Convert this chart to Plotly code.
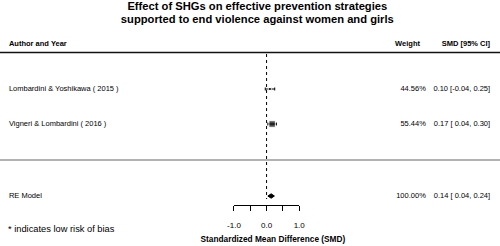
import plotly.graph_objects as go

studies = ["Lombardini & Yoshikawa ( 2015 )", "Vigneri & Lombardini ( 2016 )"]
smd = [0.10, 0.17]
ci_low = [-0.04, 0.04]
ci_high = [0.25, 0.30]
weights = [44.56, 55.44]
re_label = "RE Model"
re_est = 0.14
re_low = 0.04
re_high = 0.24
re_weight = 100.00
tick_vals = [-1.0, -0.5, 0.0, 0.5, 1.0]
tick_text = ["-1.0", "", "0.0", "", "1.0"]
title_lines = ["Effect of SHGs on effective prevention strategies",
               "supported to end violence against women and girls"]

W, H = 500, 246
FONT = "Liberation Sans, Arial, sans-serif"
row_y = [89, 124]
re_y = 196
axis_y = 205
PAD = 5  # observed text offset from anchor point

fig = go.Figure()

sizes = [3 + 3.5 * (w - min(weights)) / (max(weights) - min(weights)) for w in weights]
fig.add_trace(go.Scatter(
    x=smd, y=row_y, mode="markers",
    marker=dict(symbol="square", size=sizes, color="black"),
    error_x=dict(type="data", symmetric=False,
                 array=[h - m for h, m in zip(ci_high, smd)],
                 arrayminus=[m - l for m, l in zip(smd, ci_low)],
                 color="black", thickness=1, width=1.5),
    showlegend=False, hoverinfo="skip"))

dh = 2.2
fig.add_trace(go.Scatter(
    x=[re_low, re_est, re_high, re_est, re_low],
    y=[re_y, re_y - dh, re_y, re_y + dh, re_y],
    mode="lines", fill="toself", fillcolor="black",
    line=dict(color="black", width=1), showlegend=False, hoverinfo="skip"))

def add_text(xs, ys, texts, size, bold, pos):
    fig.add_trace(go.Scatter(
        x=xs, y=ys, xaxis="x2", yaxis="y", mode="text",
        text=[f"<b>{t}</b>" if bold else t for t in texts],
        textposition=pos, cliponaxis=False,
        textfont=dict(family=FONT, size=size, color="black"),
        showlegend=False, hoverinfo="skip"))

add_text([7 - PAD], [44], ["Author and Year"], 7.5, True, "middle right")
add_text([7 - PAD] * 3, row_y + [re_y], studies + [re_label], 7.5, False, "middle right")
add_text([6 - PAD], [230], ["* indicates low risk of bias"], 9.3, False, "middle right")
add_text([419 + PAD, 491 + PAD], [44, 44], ["Weight", "SMD [95% CI]"], 7.5, True, "middle left")
wt = [f"{w:.2f}%" for w in weights] + [f"{re_weight:.2f}%"]
add_text([425 + PAD] * 3, row_y + [re_y], wt, 7.5, False, "middle left")
ci = []
for m, l, h in zip(smd, ci_low, ci_high):
    lo = f"{l:.2f}" if l < 0 else f" {l:.2f}"
    ci.append(f"{m:.2f} [{lo}, {h:.2f}]")
ci.append(f"{re_est:.2f} [ {re_low:.2f}, {re_high:.2f}]")
add_text([491 + PAD] * 3, row_y + [re_y], ci, 7.5, False, "middle left")
add_text([257, 257], [7, 20], title_lines, 11.2, True, "middle center")
add_text([273], [240], ["Standardized Mean Difference (SMD)"], 8.3, True, "middle center")

shapes = [
    dict(type="line", xref="x", yref="y", x0=0, x1=0, y0=54, y1=199,
         line=dict(color="black", width=1, dash="dot")),
    dict(type="line", xref="paper", yref="y", x0=-0.05, x1=1.05, y0=52.5, y1=52.5,
         line=dict(color="#111", width=1.5)),
    dict(type="line", xref="paper", yref="y", x0=-0.05, x1=1.05, y0=160, y1=160,
         line=dict(color="#666", width=1.2)),
]

fig.update_layout(
    width=W, height=H, margin=dict(l=0, r=0, t=0, b=0),
    paper_bgcolor="white", plot_bgcolor="rgba(0,0,0,0)",
    shapes=shapes,
    xaxis=dict(domain=[233 / W, 300 / W], range=[-1, 1], anchor="free",
               position=1 - axis_y / H, showline=True, linecolor="black", linewidth=1,
               ticks="outside", ticklen=5, tickcolor="black", tickwidth=1,
               ticklabelstandoff=7,
               tickvals=tick_vals, ticktext=tick_text, showgrid=False, zeroline=False,
               tickfont=dict(family=FONT, size=8, color="black")),
    xaxis2=dict(domain=[0, 1], range=[0, W], anchor="y",
                visible=False, showgrid=False, zeroline=False),
    yaxis=dict(domain=[0, 1], range=[H, 0], visible=False, showgrid=False, zeroline=False),
)

fig.write_html("out.html", config={"displayModeBar": False},
               post_script="document.body.style.margin='0px';document.body.style.overflow='hidden';")
